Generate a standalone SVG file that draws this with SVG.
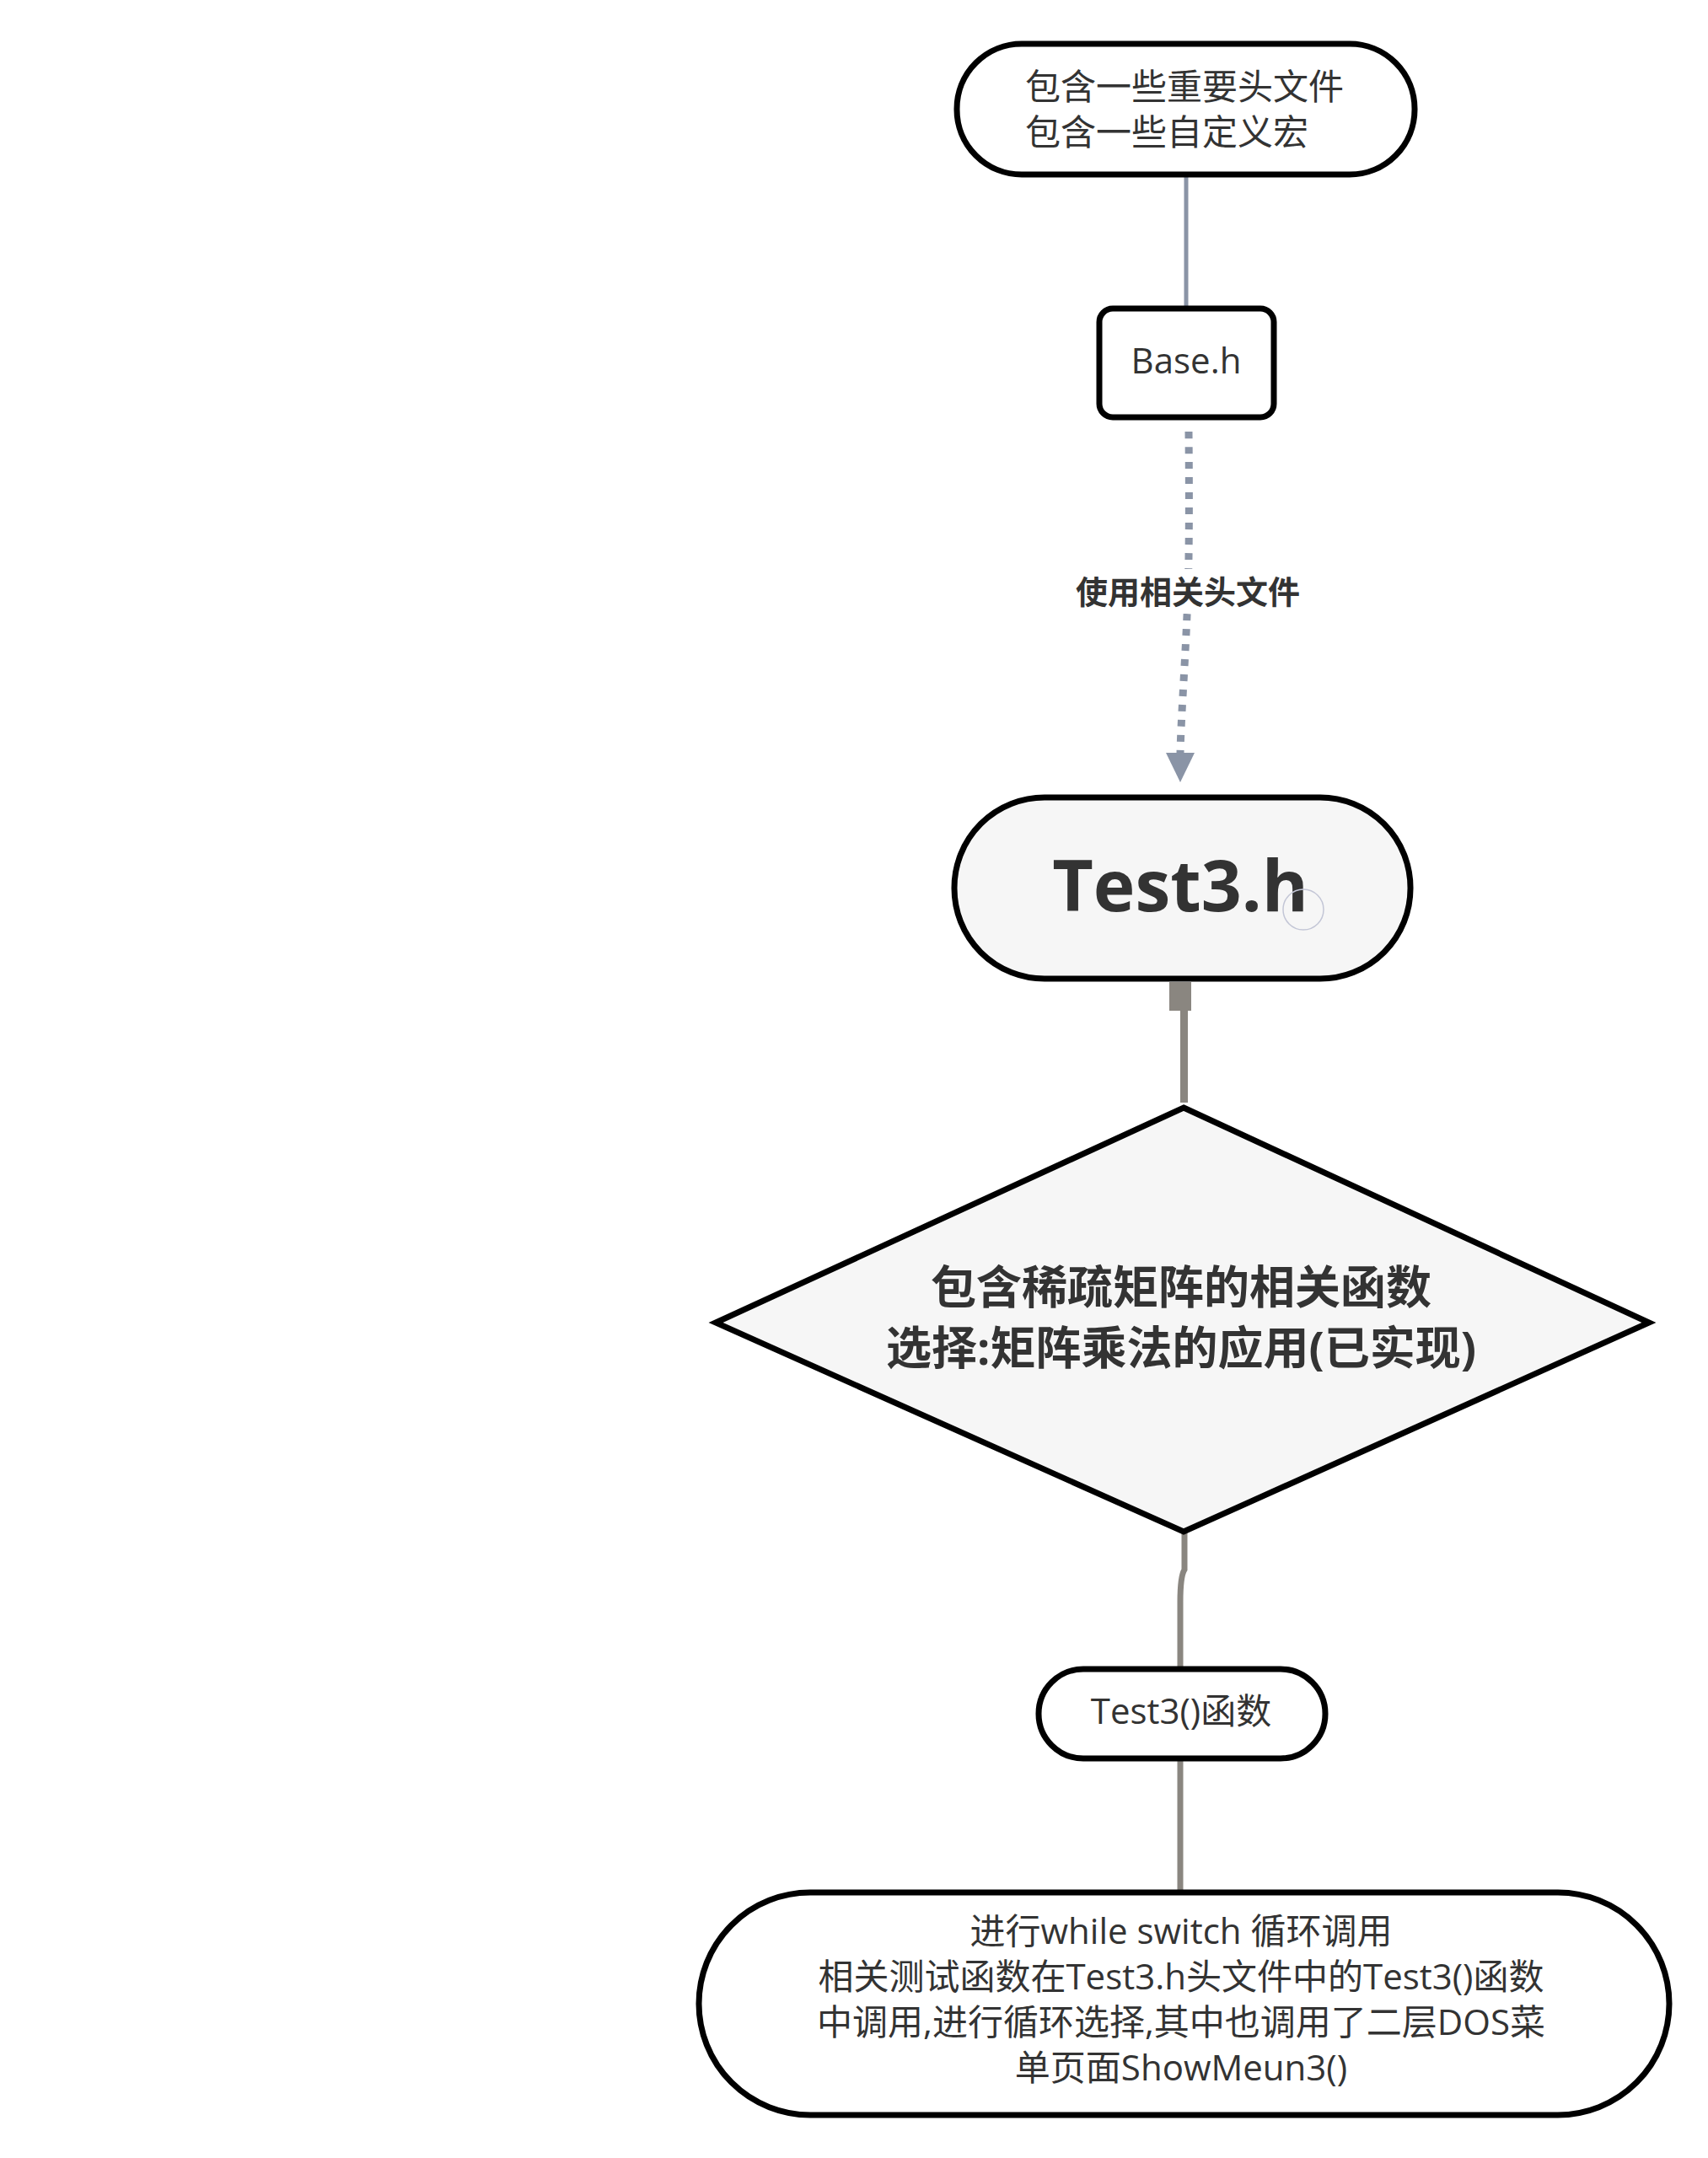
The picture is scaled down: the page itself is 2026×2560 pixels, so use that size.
<svg xmlns="http://www.w3.org/2000/svg" width="2026" height="2560" viewBox="0 0 2026 2560">
  <style>
    .node { stroke: #000; stroke-width: 7; }
    .txt { font-family: "Open Sans", "Noto Sans CJK SC", sans-serif; fill: #333; }
    .reg { font-size: 42px; }
    .bold { font-weight: bold; }
    .link-slate { stroke: #8a94a6; fill: none; }
    .link-gray { stroke: #8a8680; fill: none; }
  </style>

  <rect width="2026" height="2560" fill="#ffffff"/>

  <!-- connectors -->
  <g id="connectors">
    <line class="link-slate" x1="1407" y1="207" x2="1407" y2="366" stroke-width="5"/>
    <path class="link-slate" d="M1410 512 C1411 620 1410 700 1408 730 C1405 800 1401 850 1400 893" stroke-width="9" stroke-dasharray="8 10"/>
    <path d="M1383 893 L1417 893 L1400 928 Z" fill="#8a94a6"/>
    <rect x="1387" y="1165" width="26" height="34" fill="#8a8680"/>
    <line class="link-gray" x1="1404.5" y1="1199" x2="1404.5" y2="1308" stroke-width="9"/>
    <path class="link-gray" d="M1405 1818 L1405 1862 Q1400 1870 1400 1900 L1400 1980" stroke-width="7"/>
    <line class="link-gray" x1="1400" y1="2086" x2="1400" y2="2245" stroke-width="7"/>
  </g>

  <!-- edge label -->
  <g id="label-use-headers">
    <rect x="1268" y="675" width="282" height="53" fill="#ffffff"/>
    <text class="txt bold" x="1409" y="716" font-size="38" text-anchor="middle">使用相关头文件</text>
  </g>

  <g id="node-headers">
    <rect class="node" x="1135" y="52" width="543" height="155" rx="77" fill="#ffffff"/>
    <text class="txt reg" x="1216" y="118">包含一些重要头文件</text>
    <text class="txt reg" x="1216" y="172">包含一些自定义宏</text>
  </g>

  <g id="node-base">
    <rect class="node" x="1304" y="366" width="207" height="129" rx="16" fill="#ffffff"/>
    <text class="txt reg" x="1407" y="443" text-anchor="middle">Base.h</text>
  </g>

  <g id="node-test3h">
    <rect class="node" x="1132" y="946" width="541" height="215" rx="107" fill="#f6f6f6" stroke-width="8"/>
    <text class="txt bold" x="1400" y="1081" font-size="84" text-anchor="middle">Test3.h</text>
    <circle cx="1546" cy="1079" r="24" fill="none" stroke="#c3c6d6" stroke-width="1.5"/>
  </g>

  <g id="node-sparse">
    <polygon class="node" points="1404,1314 1956,1569 1404,1817 849,1569" fill="#f6f6f6"/>
    <text class="txt bold" x="1401" y="1547" font-size="54" text-anchor="middle">包含稀疏矩阵的相关函数</text>
    <text class="txt bold" x="1401" y="1619" font-size="54" text-anchor="middle">选择:矩阵乘法的应用(已实现)</text>
  </g>

  <g id="node-test3fn">
    <rect class="node" x="1232" y="1980" width="340" height="106" rx="53" fill="#ffffff"/>
    <text class="txt reg" x="1401" y="2045" text-anchor="middle">Test3()函数</text>
  </g>

  <g id="node-loop">
    <rect class="node" x="829" y="2245" width="1151" height="264" rx="132" fill="#ffffff"/>
    <text class="txt reg" x="1401" y="2306" text-anchor="middle">进行while switch 循环调用</text>
    <text class="txt reg" x="1401" y="2360" text-anchor="middle">相关测试函数在Test3.h头文件中的Test3()函数</text>
    <text class="txt reg" x="1401" y="2414" text-anchor="middle">中调用,进行循环选择,其中也调用了二层DOS菜</text>
    <text class="txt reg" x="1401" y="2468" text-anchor="middle">单页面ShowMeun3()</text>
  </g>
</svg>
